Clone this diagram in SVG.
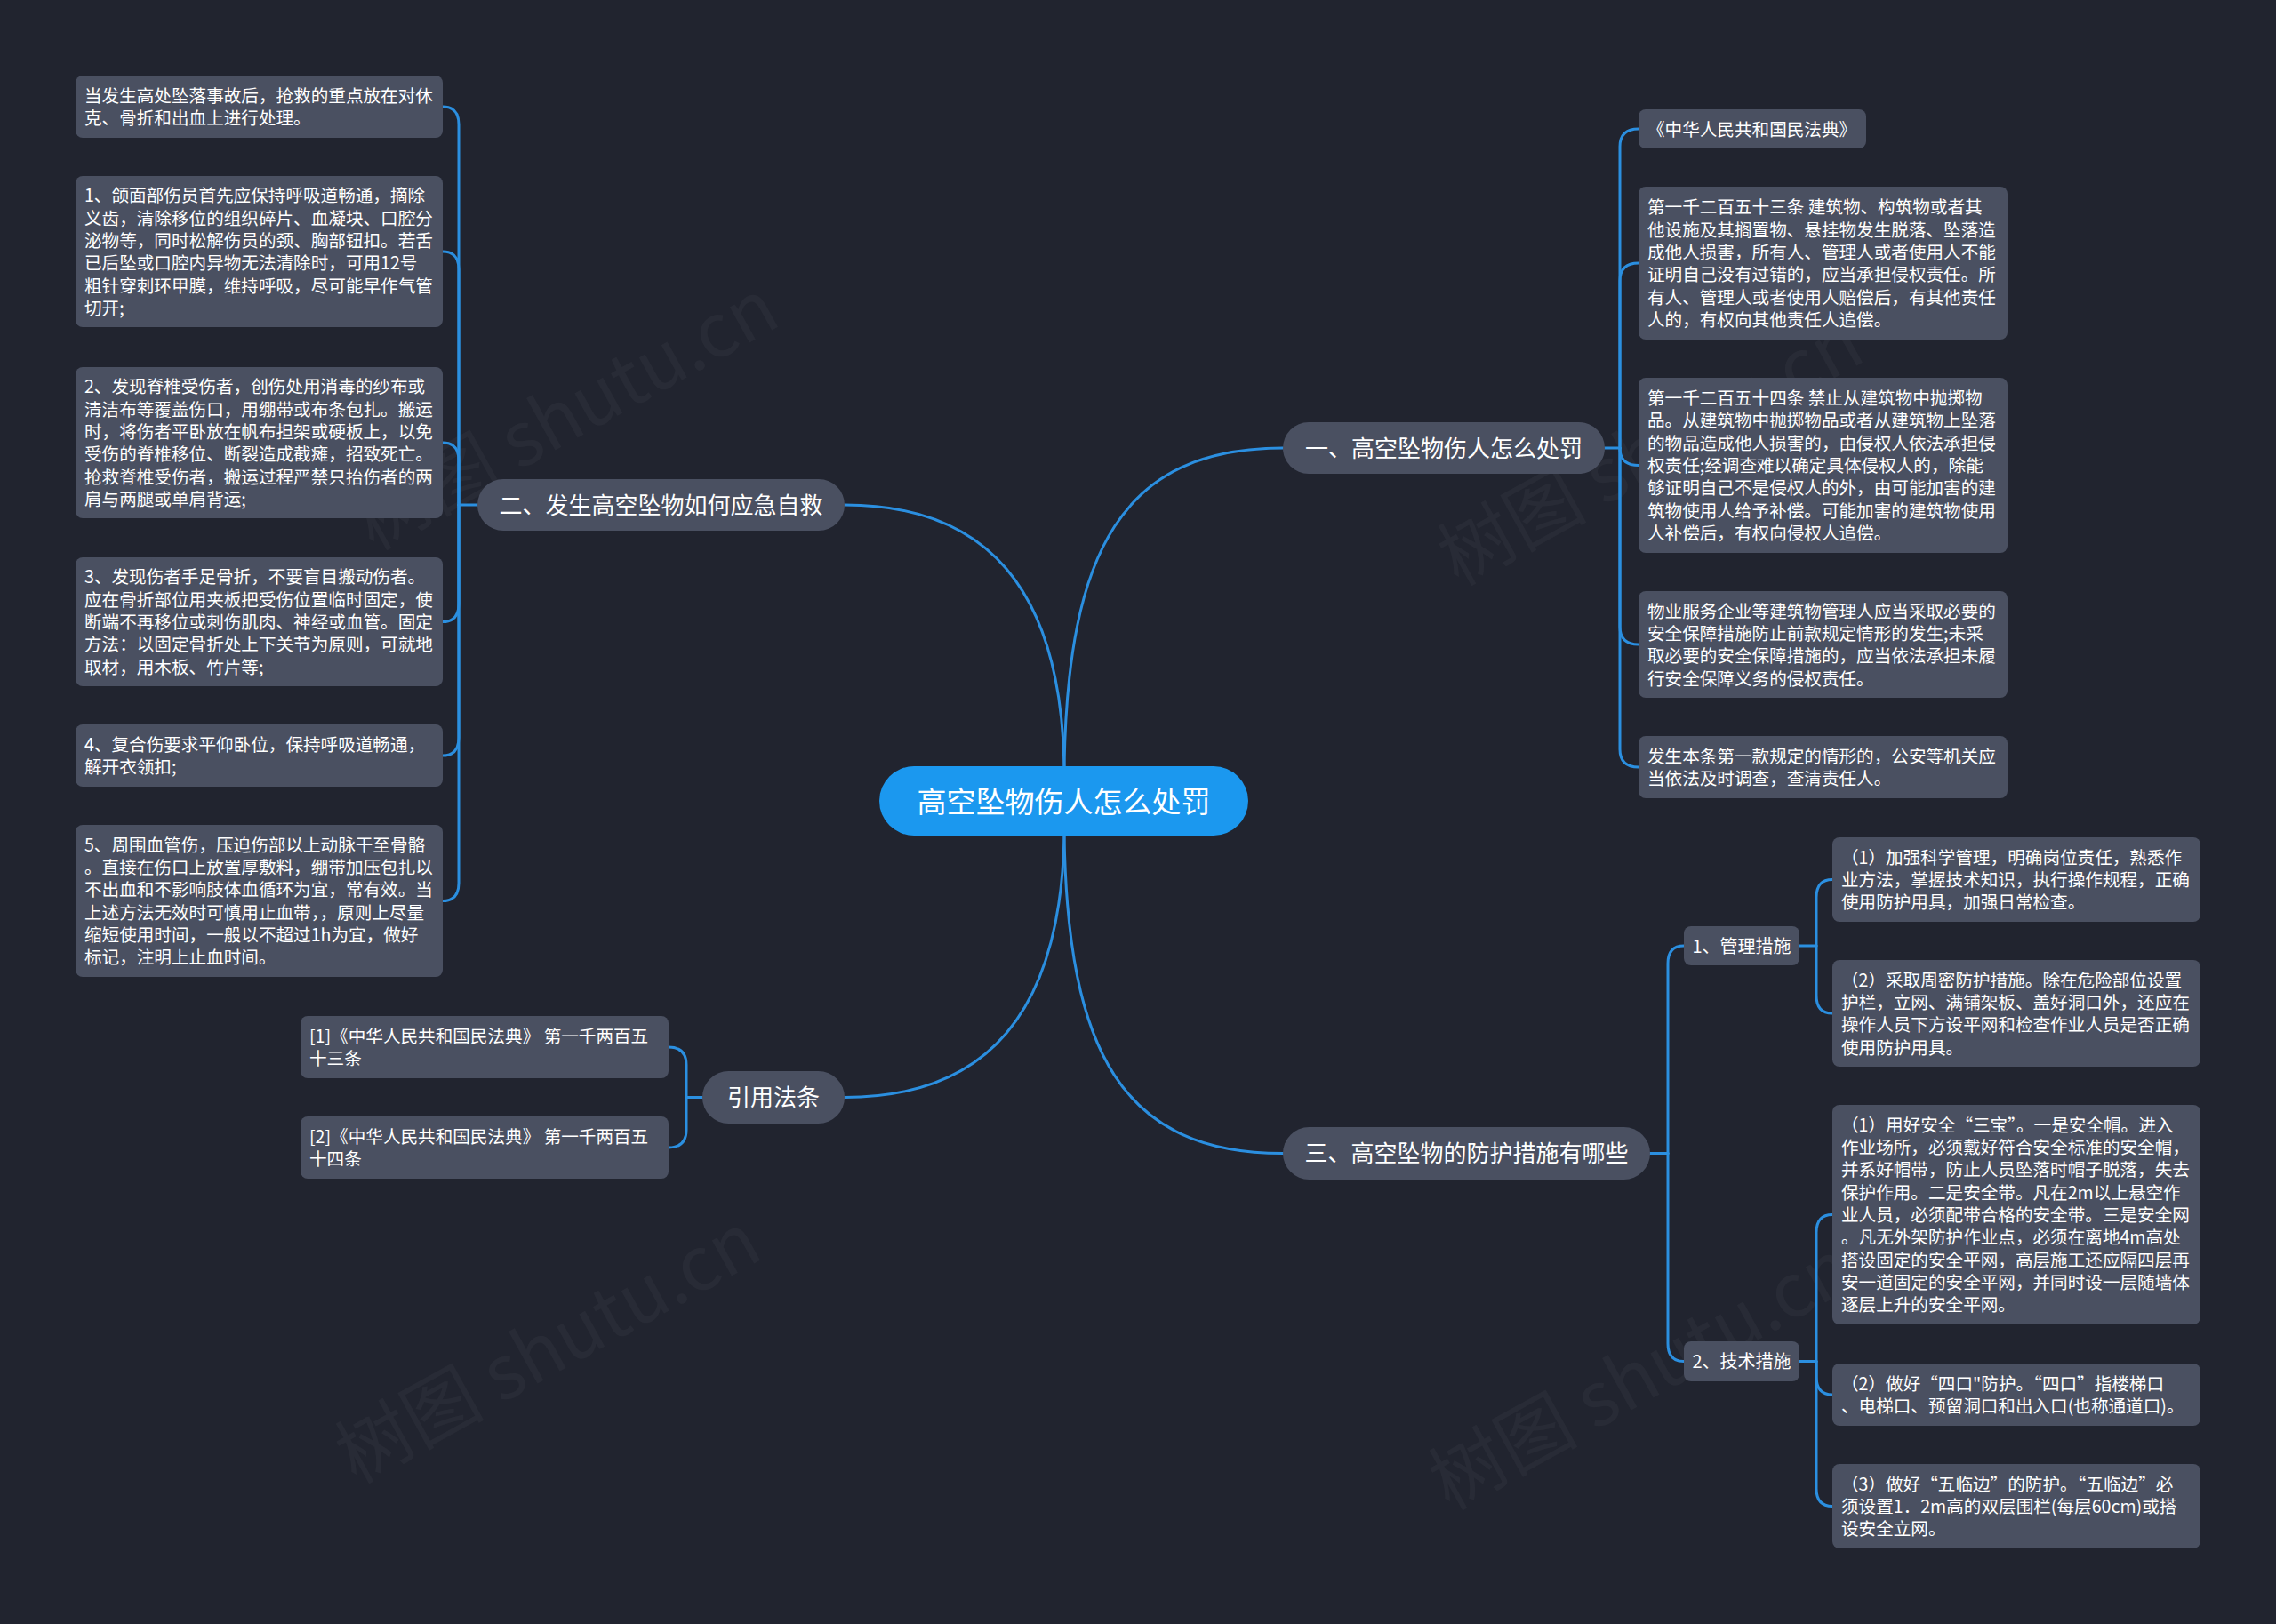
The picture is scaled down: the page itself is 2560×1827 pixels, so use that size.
<svg xmlns="http://www.w3.org/2000/svg" width="2560" height="1827" viewBox="0 0 2560 1827">
<style>
.bg{fill:#21242f}
.wm{font-family:"Noto Sans CJK SC","Noto Sans",sans-serif;font-size:84px;fill:#ffffff;fill-opacity:0.035}
.ln{fill:none;stroke:#2b8fe0;stroke-width:3;stroke-linecap:round}
.box{fill:#4a5061}
.t{font-family:"Noto Sans CJK SC","Noto Sans",sans-serif;font-size:19.6px;fill:#ffffff}
.bt{font-family:"Noto Sans CJK SC","Noto Sans",sans-serif;font-size:26px;fill:#ffffff;text-anchor:middle}
.st{font-family:"Noto Sans CJK SC","Noto Sans",sans-serif;font-size:20px;fill:#ffffff;text-anchor:middle}
.ct{font-family:"Noto Sans CJK SC","Noto Sans",sans-serif;font-size:33px;fill:#ffffff;text-anchor:middle}
</style>
<rect class="bg" x="0" y="0" width="2560" height="1827"/>
<g id="watermarks">
<text class="wm" transform="translate(420,620) rotate(-29)">树图 shutu.cn</text>
<text class="wm" transform="translate(1640,660) rotate(-29)">树图 shutu.cn</text>
<text class="wm" transform="translate(400,1670) rotate(-29)">树图 shutu.cn</text>
<text class="wm" transform="translate(1630,1700) rotate(-29)">树图 shutu.cn</text>
</g>
<g id="connectors">
<path class="ln" d="M1197,862 C1201,620 1262,504 1443,504"/>
<path class="ln" d="M1197,862 C1193,662 1110,568 950,568"/>
<path class="ln" d="M1197,940 C1193,1140 1110,1234.5 950,1234.5"/>
<path class="ln" d="M1197,940 C1201,1183 1262,1297.5 1443,1297.5"/>
<path class="ln" d="M1805,504 H1822"/>
<path class="ln" d="M1822,504 V165 Q1822,145 1843,145"/>
<path class="ln" d="M1822,504 V316 Q1822,296 1843,296"/>
<path class="ln" d="M1822,504 Q1822,523.5 1843,523.5"/>
<path class="ln" d="M1822,504 V705 Q1822,725 1843,725"/>
<path class="ln" d="M1822,504 V843 Q1822,863 1843,863"/>
<path class="ln" d="M537,568 H516"/>
<path class="ln" d="M516,568 V140 Q516,120 498,120"/>
<path class="ln" d="M516,568 V303 Q516,283 498,283"/>
<path class="ln" d="M516,568 V518 Q516,498 498,498"/>
<path class="ln" d="M516,568 V679.5 Q516,699.5 498,699.5"/>
<path class="ln" d="M516,568 V830 Q516,850 498,850"/>
<path class="ln" d="M516,568 V993.5 Q516,1013.5 498,1013.5"/>
<path class="ln" d="M790,1234.5 H772"/>
<path class="ln" d="M772,1234.5 V1198 Q772,1178 752,1178"/>
<path class="ln" d="M772,1234.5 V1271 Q772,1291 752,1291"/>
<path class="ln" d="M1856,1297.5 H1876"/>
<path class="ln" d="M1876,1297.5 V1084 Q1876,1064 1894,1064"/>
<path class="ln" d="M1876,1297.5 V1511.5 Q1876,1531.5 1894,1531.5"/>
<path class="ln" d="M2024,1064 H2043"/>
<path class="ln" d="M2043,1064 V1009.5 Q2043,989.5 2061,989.5"/>
<path class="ln" d="M2043,1064 V1120 Q2043,1140 2061,1140"/>
<path class="ln" d="M2024,1531.5 H2043"/>
<path class="ln" d="M2043,1531.5 V1386.5 Q2043,1366.5 2061,1366.5"/>
<path class="ln" d="M2043,1531.5 V1549 Q2043,1569 2061,1569"/>
<path class="ln" d="M2043,1531.5 V1674.5 Q2043,1694.5 2061,1694.5"/>
</g>
<g id="center">
<rect x="989" y="862" width="415" height="78" rx="39" fill="#1b98ef"/>
<text class="ct" x="1196.5" y="913.5">高空坠物伤人怎么处罚</text>
</g>
<g id="b1">
<rect class="box" x="1443" y="475" width="362" height="58" rx="29"/>
<text class="bt" x="1624" y="513.5">一、高空坠物伤人怎么处罚</text>
</g>
<g id="b2">
<rect class="box" x="537" y="539" width="413" height="58" rx="29"/>
<text class="bt" x="743.5" y="577.5">二、发生高空坠物如何应急自救</text>
</g>
<g id="b3">
<rect class="box" x="790" y="1205" width="160" height="59" rx="29.5"/>
<text class="bt" x="870" y="1244">引用法条</text>
</g>
<g id="b4">
<rect class="box" x="1443" y="1268" width="413" height="59" rx="29.5"/>
<text class="bt" x="1649.5" y="1307">三、高空坠物的防护措施有哪些</text>
</g>
<g id="c1a">
<rect class="box" x="1843" y="123" width="256" height="44" rx="8"/>
<text class="t" x="1853" y="152.5">《中华人民共和国民法典》</text>
</g>
<g id="c1b">
<rect class="box" x="1843" y="210" width="415" height="172" rx="8"/>
<text class="t" x="1853" y="240.3"><tspan x="1853">第一千二百五十三条 建筑物、构筑物或者其</tspan><tspan x="1853" dy="25.3">他设施及其搁置物、悬挂物发生脱落、坠落造</tspan><tspan x="1853" dy="25.3">成他人损害，所有人、管理人或者使用人不能</tspan><tspan x="1853" dy="25.3">证明自己没有过错的，应当承担侵权责任。所</tspan><tspan x="1853" dy="25.3">有人、管理人或者使用人赔偿后，有其他责任</tspan><tspan x="1853" dy="25.3">人的，有权向其他责任人追偿。</tspan></text>
</g>
<g id="c1c">
<rect class="box" x="1843" y="425" width="415" height="197" rx="8"/>
<text class="t" x="1853" y="455.1"><tspan x="1853">第一千二百五十四条 禁止从建筑物中抛掷物</tspan><tspan x="1853" dy="25.3">品。从建筑物中抛掷物品或者从建筑物上坠落</tspan><tspan x="1853" dy="25.3">的物品造成他人损害的，由侵权人依法承担侵</tspan><tspan x="1853" dy="25.3">权责任;经调查难以确定具体侵权人的，除能</tspan><tspan x="1853" dy="25.3">够证明自己不是侵权人的外，由可能加害的建</tspan><tspan x="1853" dy="25.3">筑物使用人给予补偿。可能加害的建筑物使用</tspan><tspan x="1853" dy="25.3">人补偿后，有权向侵权人追偿。</tspan></text>
</g>
<g id="c1d">
<rect class="box" x="1843" y="665" width="415" height="120" rx="8"/>
<text class="t" x="1853" y="694.6"><tspan x="1853">物业服务企业等建筑物管理人应当采取必要的</tspan><tspan x="1853" dy="25.3">安全保障措施防止前款规定情形的发生;未采</tspan><tspan x="1853" dy="25.3">取必要的安全保障措施的，应当依法承担未履</tspan><tspan x="1853" dy="25.3">行安全保障义务的侵权责任。</tspan></text>
</g>
<g id="c1e">
<rect class="box" x="1843" y="828" width="415" height="70" rx="8"/>
<text class="t" x="1853" y="857.9"><tspan x="1853">发生本条第一款规定的情形的，公安等机关应</tspan><tspan x="1853" dy="25.3">当依法及时调查，查清责任人。</tspan></text>
</g>
<g id="l1">
<rect class="box" x="85" y="85" width="413" height="70" rx="8"/>
<text class="t" x="95" y="114.9"><tspan x="95">当发生高处坠落事故后，抢救的重点放在对休</tspan><tspan x="95" dy="25.3">克、骨折和出血上进行处理。</tspan></text>
</g>
<g id="l2">
<rect class="box" x="85" y="198" width="413" height="170" rx="8"/>
<text class="t" x="95" y="227.3"><tspan x="95">1、颌面部伤员首先应保持呼吸道畅通，摘除</tspan><tspan x="95" dy="25.3">义齿，清除移位的组织碎片、血凝块、口腔分</tspan><tspan x="95" dy="25.3">泌物等，同时松解伤员的颈、胸部钮扣。若舌</tspan><tspan x="95" dy="25.3">已后坠或口腔内异物无法清除时，可用12号</tspan><tspan x="95" dy="25.3">粗针穿刺环甲膜，维持呼吸，尽可能早作气管</tspan><tspan x="95" dy="25.3">切开;</tspan></text>
</g>
<g id="l3">
<rect class="box" x="85" y="413" width="413" height="170" rx="8"/>
<text class="t" x="95" y="442.3"><tspan x="95">2、发现脊椎受伤者，创伤处用消毒的纱布或</tspan><tspan x="95" dy="25.3">清洁布等覆盖伤口，用绷带或布条包扎。搬运</tspan><tspan x="95" dy="25.3">时，将伤者平卧放在帆布担架或硬板上，以免</tspan><tspan x="95" dy="25.3">受伤的脊椎移位、断裂造成截瘫，招致死亡。</tspan><tspan x="95" dy="25.3">抢救脊椎受伤者，搬运过程严禁只抬伤者的两</tspan><tspan x="95" dy="25.3">肩与两腿或单肩背运;</tspan></text>
</g>
<g id="l4">
<rect class="box" x="85" y="627" width="413" height="145" rx="8"/>
<text class="t" x="95" y="656.4"><tspan x="95">3、发现伤者手足骨折，不要盲目搬动伤者。</tspan><tspan x="95" dy="25.3">应在骨折部位用夹板把受伤位置临时固定，使</tspan><tspan x="95" dy="25.3">断端不再移位或刺伤肌肉、神经或血管。固定</tspan><tspan x="95" dy="25.3">方法：以固定骨折处上下关节为原则，可就地</tspan><tspan x="95" dy="25.3">取材，用木板、竹片等;</tspan></text>
</g>
<g id="l5">
<rect class="box" x="85" y="815" width="413" height="70" rx="8"/>
<text class="t" x="95" y="844.9"><tspan x="95">4、复合伤要求平仰卧位，保持呼吸道畅通，</tspan><tspan x="95" dy="25.3">解开衣领扣;</tspan></text>
</g>
<g id="l6">
<rect class="box" x="85" y="928" width="413" height="171" rx="8"/>
<text class="t" x="95" y="957.8"><tspan x="95">5、周围血管伤，压迫伤部以上动脉干至骨骼</tspan><tspan x="95" dy="25.3">。直接在伤口上放置厚敷料，绷带加压包扎以</tspan><tspan x="95" dy="25.3">不出血和不影响肢体血循环为宜，常有效。当</tspan><tspan x="95" dy="25.3">上述方法无效时可慎用止血带，，原则上尽量</tspan><tspan x="95" dy="25.3">缩短使用时间，一般以不超过1h为宜，做好</tspan><tspan x="95" dy="25.3">标记，注明上止血时间。</tspan></text>
</g>
<g id="r1">
<rect class="box" x="338" y="1143" width="414" height="70" rx="8"/>
<text class="t" x="348" y="1172.9"><tspan x="348">[1]《中华人民共和国民法典》 第一千两百五</tspan><tspan x="348" dy="25.3">十三条</tspan></text>
</g>
<g id="r2">
<rect class="box" x="338" y="1256" width="414" height="70" rx="8"/>
<text class="t" x="348" y="1285.9"><tspan x="348">[2]《中华人民共和国民法典》 第一千两百五</tspan><tspan x="348" dy="25.3">十四条</tspan></text>
</g>
<g id="s1">
<rect class="box" x="1894" y="1042" width="130" height="44" rx="8"/>
<text class="st" x="1959" y="1071.5">1、管理措施</text>
</g>
<g id="m1">
<rect class="box" x="2061" y="942" width="414" height="95" rx="8"/>
<text class="t" x="2071" y="971.7"><tspan x="2071">（1）加强科学管理，明确岗位责任，熟悉作</tspan><tspan x="2071" dy="25.3">业方法，掌握技术知识，执行操作规程，正确</tspan><tspan x="2071" dy="25.3">使用防护用具，加强日常检查。</tspan></text>
</g>
<g id="m2">
<rect class="box" x="2061" y="1080" width="414" height="120" rx="8"/>
<text class="t" x="2071" y="1109.6"><tspan x="2071">（2）采取周密防护措施。除在危险部位设置</tspan><tspan x="2071" dy="25.3">护栏，立网、满铺架板、盖好洞口外，还应在</tspan><tspan x="2071" dy="25.3">操作人员下方设平网和检查作业人员是否正确</tspan><tspan x="2071" dy="25.3">使用防护用具。</tspan></text>
</g>
<g id="s2">
<rect class="box" x="1894" y="1509" width="130" height="45" rx="8"/>
<text class="st" x="1959" y="1539">2、技术措施</text>
</g>
<g id="t1">
<rect class="box" x="2061" y="1243" width="414" height="247" rx="8"/>
<text class="t" x="2071" y="1272.8"><tspan x="2071">（1）用好安全“三宝”。一是安全帽。进入</tspan><tspan x="2071" dy="25.3">作业场所，必须戴好符合安全标准的安全帽，</tspan><tspan x="2071" dy="25.3">并系好帽带，防止人员坠落时帽子脱落，失去</tspan><tspan x="2071" dy="25.3">保护作用。二是安全带。凡在2m以上悬空作</tspan><tspan x="2071" dy="25.3">业人员，必须配带合格的安全带。三是安全网</tspan><tspan x="2071" dy="25.3">。凡无外架防护作业点，必须在离地4m高处</tspan><tspan x="2071" dy="25.3">搭设固定的安全平网，高层施工还应隔四层再</tspan><tspan x="2071" dy="25.3">安一道固定的安全平网，并同时设一层随墙体</tspan><tspan x="2071" dy="25.3">逐层上升的安全平网。</tspan></text>
</g>
<g id="t2">
<rect class="box" x="2061" y="1534" width="414" height="70" rx="8"/>
<text class="t" x="2071" y="1563.9"><tspan x="2071">（2）做好“四口"防护。“四口”指楼梯口</tspan><tspan x="2071" dy="25.3">、电梯口、预留洞口和出入口(也称通道口)。</tspan></text>
</g>
<g id="t3">
<rect class="box" x="2061" y="1647" width="414" height="95" rx="8"/>
<text class="t" x="2071" y="1676.7"><tspan x="2071">（3）做好“五临边”的防护。“五临边”必</tspan><tspan x="2071" dy="25.3">须设置1．2m高的双层围栏(每层60cm)或搭</tspan><tspan x="2071" dy="25.3">设安全立网。</tspan></text>
</g>
</svg>
